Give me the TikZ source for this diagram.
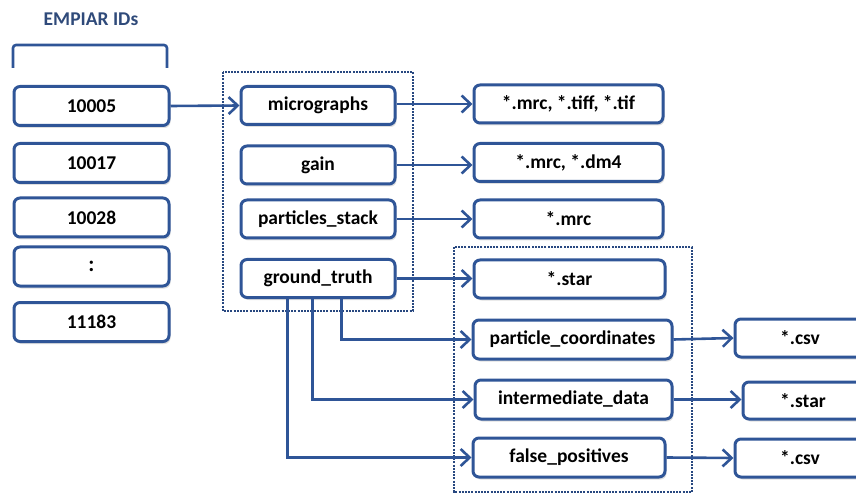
\documentclass[tikz,border=0pt]{standalone}
\usepackage{fontspec}
\setmainfont{Carlito}
\usetikzlibrary{arrows.meta,shadows}
\definecolor{boxblue}{HTML}{2F5597}
\definecolor{titleblue}{HTML}{2F4A7A}
\tikzset{
  fbox/.style={draw=boxblue, line width=3pt, rounded corners=6pt, fill=white,
    inner sep=0pt, font=\fontsize{19.5}{22}\selectfont\bfseries,
    drop shadow={opacity=0.25, shadow xshift=1.5pt, shadow yshift=-2.5pt}},
  conn/.style={draw=boxblue, line width=2.6pt,
    -{Straight Barb[length=9pt,width=17pt,line width=2.6pt]}},
  dotframe/.style={draw=boxblue!85!black, line width=2.8pt, dash pattern=on 2pt off 1.2pt},
}
\begin{document}
\begin{tikzpicture}[x=1pt,y=-1pt]
\useasboundingbox (0,0) rectangle (856,494);
\clip (0,0) rectangle (856,494);

% heading and bracket over the ID column
\node[font=\fontsize{19.5}{22}\selectfont\bfseries, text=titleblue] (title) at (91,19) {EMPIAR IDs};
\draw[boxblue, line width=2.6pt, rounded corners=3pt] (13,68) -- (13,45) -- (167,45) -- (167,68);

% dotted group frames
\draw[dotframe] (223,72) rectangle (413,311);
\draw[dotframe] (454,247) rectangle (692,492);

% EMPIAR entries
\begin{scope}[every node/.style={fbox, minimum width=155pt, minimum height=39pt}]
\node (e1) at (91.5,106) {10005};
\node (e2) at (91.5,163) {10017};
\node (e3) at (91.5,217.5) {10028};
\node[font=\fontsize{22}{24}\selectfont\bfseries] (e4) at (91.5,266.5) {:};
\node (e5) at (91.5,322) {11183};
\end{scope}

% dataset folders
\begin{scope}[every node/.style={fbox, minimum width=154pt, minimum height=38pt}]
\node (mic) at (318,105.5) {micrographs};
\node (gain) at (318,165) {gain};
\node (ps) at (318,219) {particles\_stack};
\node (gt) at (318,278.5) {ground\_truth};
\end{scope}

% file types and ground-truth subfolders
\begin{scope}[every node/.style={fbox, minimum height=38pt}]
\node[minimum width=189pt] (f1) at (568.5,104) {*.mrc, *.tiff, *.tif};
\node[minimum width=189pt] (f2) at (568.5,162.5) {*.mrc, *.dm4};
\node[minimum width=189pt] (f3) at (568.5,219) {*.mrc};
\node[minimum width=191pt] (f4) at (569.5,279) {*.star};
\node[minimum width=199pt, minimum height=39pt] (pc) at (572.5,339.5) {particle\_coordinates};
\node[minimum width=197pt, minimum height=39pt] (im) at (573.5,399.5) {intermediate\_data};
\node[minimum width=192pt, minimum height=39pt] (fp) at (569,457.5) {false\_positives};
\node[minimum width=130pt] (c1) at (800,338) {*.csv};
\node[minimum width=120pt, minimum height=37pt] (c2) at (803,400.5) {*.star};
\node[minimum width=130pt] (c3) at (800,458) {*.csv};
\end{scope}

% connectors
\draw[conn] (e1.east) -- (mic.west);
\draw[conn] (mic.east |- f1.west) -- (f1.west);
\draw[conn] (gain.east) -- (gain.east -| f2.west);
\draw[conn] (ps.east) -- (f3.west);
\draw[conn] (gt.east) -- (gt.east -| f4.west);
\draw[conn] ([xshift=102pt]gt.south west) |- (pc.west);
\draw[conn] ([xshift=73pt]gt.south west) |- (im.west);
\draw[conn] ([xshift=48pt]gt.south west) |- (fp.west);
\draw[conn] (pc.east) -- (c1.west);
\draw[conn] (im.east) -- (im.east -| c2.west);
\draw[conn] (fp.east) -- (c3.west);
\end{tikzpicture}
\end{document}
